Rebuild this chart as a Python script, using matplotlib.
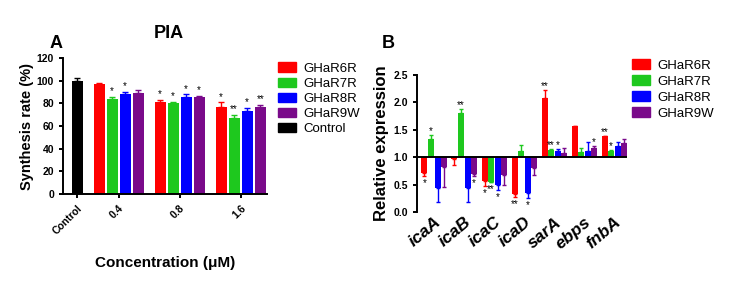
import matplotlib.pyplot as plt
from matplotlib.patches import Patch
from matplotlib import transforms
import numpy as np

plt.rcParams['font.family'] = ['Liberation Sans', 'DejaVu Sans']

# ===== Data =====
series = ["GHaR6R", "GHaR7R", "GHaR8R", "GHaR9W"]
colors_ = ["#ff0000", "#1ec81e", "#0000ff", "#7a0a8a"]

# Panel A: PIA synthesis
conc = ["0.4", "0.8", "1.6"]
control_val = 100
control_err = 2.5
pia_vals = [[97, 81, 77],      # GHaR6R
            [84, 80, 67],      # GHaR7R
            [88, 86, 73],      # GHaR8R
            [89, 86, 77]]      # GHaR9W
pia_err = [[1, 2, 4],
           [2, 1.5, 3],
           [2, 2, 3],
           [3, 0.5, 1.5]]
pia_stars = [["", "*", "*"],
             ["*", "*", "**"],
             ["*", "*", "*"],
             ["", "*", "**"]]

# Panel B: relative expression
genes = ["icaA", "icaB", "icaC", "icaD", "sarA", "ebps", "fnbA"]
expr_vals = [[0.72, 0.97, 0.57, 0.33, 2.08, 1.57, 1.38],
             [1.33, 1.80, 0.55, 1.12, 1.14, 1.09, 1.12],
             [0.43, 0.43, 0.50, 0.35, 1.12, 1.12, 1.20],
             [0.82, 0.70, 0.68, 0.80, 1.07, 1.17, 1.25]]
expr_err = [[0.07, 0.11, 0.09, 0.05, 0.15, 0.0, 0.01],
            [0.07, 0.08, 0.0, 0.11, 0.01, 0.07, 0.02],
            [0.25, 0.25, 0.10, 0.10, 0.03, 0.16, 0.07],
            [0.37, 0.04, 0.18, 0.12, 0.09, 0.03, 0.08]]
expr_stars = [["*", "", "*", "**", "**", "", "**"],
              ["*", "**", "**", "", "**", "", "*"],
              ["", "", "*", "*", "*", "", ""],
              ["", "*", "", "", "", "*", ""]]

# ===== Figure =====
fig = plt.figure(figsize=(7.35, 2.83), dpi=100)

def style_axes(ax):
  for s in ["top", "right"]:
    ax.spines[s].set_visible(False)
  for s in ["left", "bottom"]:
    ax.spines[s].set_linewidth(1.4)
  ax.tick_params(axis="y", width=1.4, length=3, labelsize=7.5)
  for lab in ax.get_yticklabels():
    lab.set_fontweight("bold")

# ----- Panel A -----
axA = fig.add_axes([0.0857, 0.3145, 0.2775, 0.4805])
bw = 0.18
step = 0.213
ctrl_x = 0.32
axA.bar(ctrl_x, control_val, bw, color="black")
axA.errorbar(ctrl_x, control_val, yerr=[[0], [control_err]], fmt="none",
             ecolor="black", capsize=2, elinewidth=1)
centers = np.arange(1, len(conc) + 1)
for i in range(len(series)):
  x = centers + (i - 1.5) * step
  axA.bar(x, pia_vals[i], bw, color=colors_[i])
  axA.errorbar(x, pia_vals[i], yerr=[np.zeros(len(conc)), pia_err[i]], fmt="none",
               ecolor=colors_[i], capsize=2, elinewidth=1)
  for xx, v, e, st in zip(x, pia_vals[i], pia_err[i], pia_stars[i]):
    if st:
      axA.text(xx, v + e + 0.5, st, ha="center", va="bottom", fontsize=7)
axA.set_xlim(0.09, 3.43)
axA.set_ylim(0, 120)
axA.set_yticks(np.arange(0, 121, 20))
axA.set_xticks([ctrl_x] + list(centers))
axA.set_xticklabels(["Control"] + conc, rotation=45, ha="right",
                    rotation_mode="anchor", fontsize=7.5, fontweight="bold")
style_axes(axA)
axA.tick_params(axis="x", width=1.4, length=3)
axA.set_ylabel("Synthesis rate (%)", fontsize=10.5, fontweight="bold", labelpad=2)
axA.set_xlabel("Concentration (μM)", fontsize=11, fontweight="bold", labelpad=14)
fig.text(0.229, 0.88, "PIA", fontsize=13, fontweight="bold", ha="center", va="center")
fig.text(0.076, 0.845, "A", fontsize=13, fontweight="bold", ha="center", va="center")

handlesA = [Patch(color=c) for c in colors_ + ["black"]]
axA.legend(handlesA, series + ["Control"], loc="upper left",
           bbox_to_anchor=(0.995, 1.055), frameon=False, fontsize=9.5,
           handlelength=1.36, handleheight=0.7, handletextpad=0.55, labelspacing=0.22)

# ----- Panel B -----
axB = fig.add_axes([0.567, 0.251, 0.286, 0.484])
bwB = 0.2
stepB = 0.217
gx = np.arange(len(genes))
for i in range(len(series)):
  x = gx + (i - 1.5) * stepB
  vals = np.array(expr_vals[i])
  errs = np.array(expr_err[i])
  up = vals >= 1
  axB.bar(x, vals - 1, bwB, bottom=1, color=colors_[i])
  lower = np.where(up, 0, errs)
  upper = np.where(up, errs, 0)
  axB.errorbar(x, vals, yerr=[lower, upper], fmt="none", ecolor=colors_[i],
               capsize=1.5, elinewidth=1)
  for xx, v, e, u, st in zip(x, vals, errs, up, expr_stars[i]):
    if not st:
      continue
    if u:
      axB.text(xx, v + e - 0.02, st, ha="center", va="bottom", fontsize=7)
    else:
      axB.text(xx, v - e - 0.04, st, ha="center", va="top", fontsize=7)
axB.axhline(1, color="black", lw=1.4)
axB.set_xlim(-0.583, 6.42)
axB.set_ylim(0, 2.5)
axB.set_yticks(np.arange(0, 2.51, 0.5))
axB.set_xticks(gx)
axB.set_xticklabels(genes, rotation=40, ha="right", rotation_mode="anchor",
                    fontsize=12.5, fontweight="bold", fontstyle="italic")
shift = transforms.ScaledTranslation(6 / 72, 5 / 72, fig.dpi_scale_trans)
for lab in axB.get_xticklabels():
  lab.set_transform(lab.get_transform() + shift)
style_axes(axB)
axB.spines["bottom"].set_visible(False)
axB.tick_params(axis="x", length=0, pad=2)
axB.set_ylabel("Relative expression", fontsize=12, fontweight="bold", labelpad=3)
fig.text(0.528, 0.845, "B", fontsize=13, fontweight="bold", ha="center", va="center")

handlesB = [Patch(color=c) for c in colors_]
axB.legend(handlesB, series, loc="upper left", bbox_to_anchor=(0.967, 1.2),
           frameon=False, fontsize=9.5, handlelength=1.36, handleheight=0.7,
           handletextpad=0.55, labelspacing=0.28)

fig.savefig("out.png", dpi=100)
